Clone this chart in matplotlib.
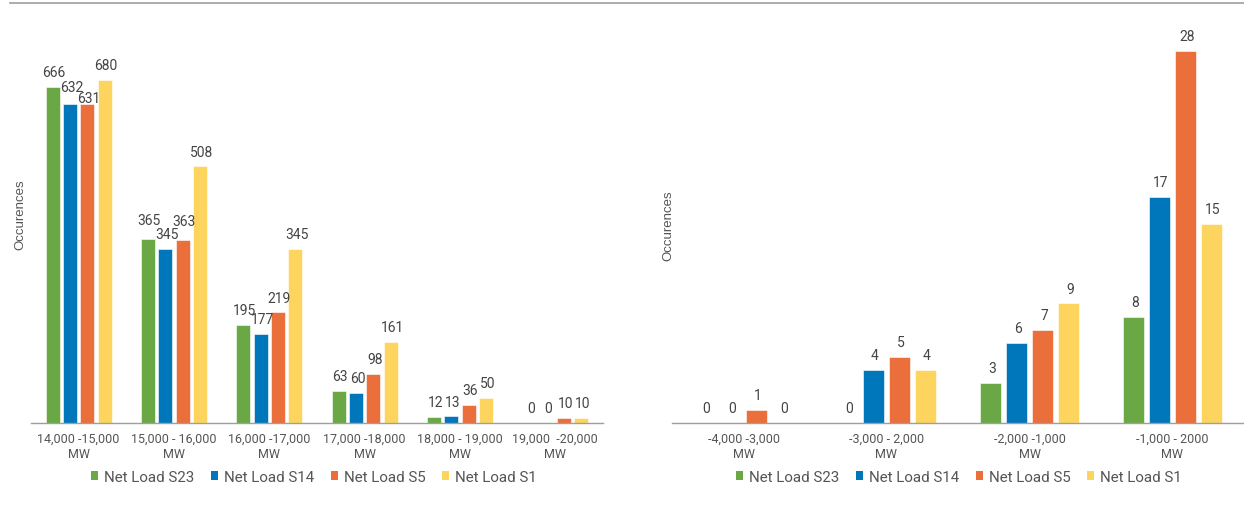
import matplotlib
matplotlib.use("Agg")
import matplotlib.pyplot as plt
from matplotlib.patches import Patch
from matplotlib.lines import Line2D
import numpy as np

plt.rcParams['font.family'] = ['Roboto', 'DejaVu Sans']

series = ['Net Load S23', 'Net Load S14', 'Net Load S5', 'Net Load S1']
colors = ['#6aa845', '#0077bb', '#eb6f3b', '#fdd55e']

# high net load bins
high_bins = ['14,000 -15,000\nMW', '15,000 - 16,000\nMW', '16,000 -17,000\nMW',
             '17,000 -18,000\nMW', '18,000 - 19,000\nMW', '19,000  -20,000\nMW']
high_s23 = [666, 365, 195, 63, 12, 0]
high_s14 = [632, 345, 177, 60, 13, 0]
high_s5 = [631, 363, 219, 98, 36, 10]
high_s1 = [680, 508, 345, 161, 50, 10]

# low net load bins
low_bins = ['-4,000 -3,000\nMW', '-3,000 - 2,000\nMW', '-2,000 -1,000\nMW', '-1,000 - 2000\nMW']
low_s23 = [0, 0, 3, 8]
low_s14 = [0, 4, 6, 17]
low_s5 = [1, 5, 7, 28]
low_s1 = [0, 4, 9, 15]

# extra vertical shift (points) for crowded value labels: (series, bin) -> dy
high_nudge = {(1, 0): 1.5, (2, 0): -6.0, (0, 1): 3.0, (2, 1): 3.0}

W, H = 1244, 506
fig = plt.figure(figsize=(W / 100, H / 100), dpi=100)

text_col = '#555555'
label_col = '#444444'
top_px, base_px = 20, 424


def panel(left_px, right_px, bins, data, ymax, ylabel_xy, nudge, legend_x):
    ax = fig.add_axes([left_px / W, 1 - base_px / H,
                       (right_px - left_px) / W, (base_px - top_px) / H])
    x = np.arange(len(bins))
    step, width = 0.182, 0.145
    for i, (vals, c) in enumerate(zip(data, colors)):
        pos = x + (i - 1.5) * step
        ax.bar(pos, vals, width, color=c, edgecolor='white', linewidth=0.4, zorder=2)
        for j, (p, v) in enumerate(zip(pos, vals)):
            dy = 7.8 + nudge.get((i, j), 0)
            ax.annotate(str(v), (p, v), xytext=(1, dy), textcoords='offset points',
                        ha='center', va='baseline', fontsize=10, color=label_col)
    ax.set_xlim(-0.5, len(bins) - 0.5)
    ax.set_ylim(0, ymax)
    ax.set_xticks(x)
    ax.set_xticklabels(bins, fontsize=9, color=text_col, linespacing=1.25)
    ax.tick_params(axis='x', length=0, pad=6)
    ax.set_yticks([])
    for s in ['top', 'left', 'right']:
        ax.spines[s].set_visible(False)
    ax.spines['bottom'].set_color('#9e9e9e')
    ax.spines['bottom'].set_linewidth(1.0)
    ax.spines['bottom'].set_zorder(3)
    fig.text(ylabel_xy[0] / W, 1 - ylabel_xy[1] / H, 'Occurences', rotation=90,
             ha='center', va='center', fontsize=9.5, color=text_col,
             family=['Liberation Sans', 'DejaVu Sans'])
    handles = [Patch(facecolor=c, edgecolor='none') for c in colors]
    fig.legend(handles, series, loc='center',
               bbox_to_anchor=(legend_x / W, 1 - 478 / H),
               ncol=4, frameon=False, fontsize=10.9, handlelength=0.47,
               handleheight=0.47, handletextpad=0.42, columnspacing=1.07,
               labelcolor=text_col, borderpad=0.2)
    return ax


panel(31, 603, high_bins, [high_s23, high_s14, high_s5, high_s1], 800, (20, 215),
      high_nudge, 314)
panel(672, 1244, low_bins, [low_s23, low_s14, low_s5, low_s1], 30.4, (668, 226),
      {}, 959)

# thin rule along the top edge
fig.add_artist(Line2D([10 / W, 1], [1 - 3.5 / H, 1 - 3.5 / H], color='#9e9e9e', linewidth=1.2))

fig.savefig('out.png', dpi=100)
